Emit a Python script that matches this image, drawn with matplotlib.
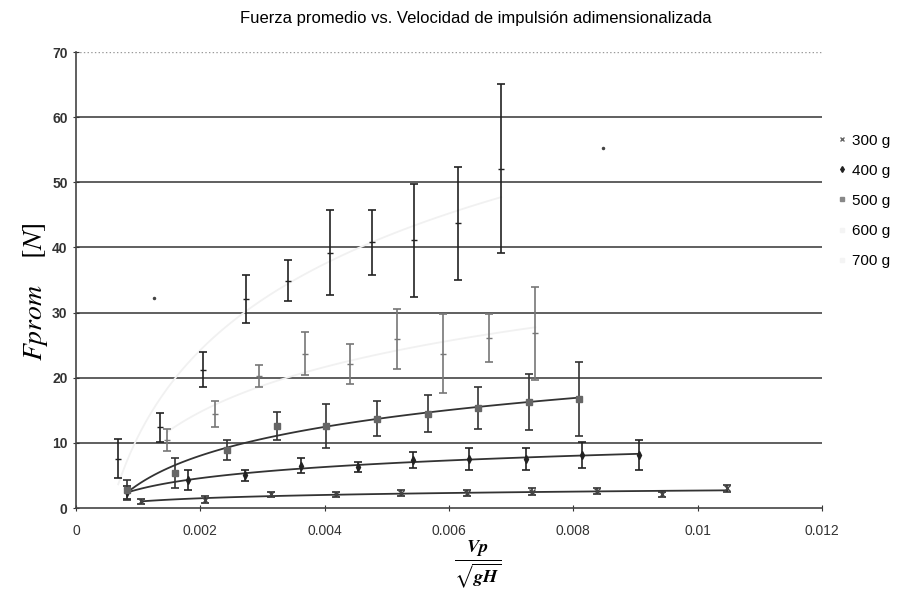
import numpy as np
import matplotlib
matplotlib.use("Agg")
from matplotlib import pyplot as plt
from matplotlib.lines import Line2D

# ---- data ----
series_labels = ["300 g", "400 g", "500 g", "600 g", "700 g"]

x_300 = [0.00105, 0.00208, 0.00314, 0.00418, 0.00523, 0.00629, 0.00733, 0.00838, 0.00942, 0.01048]
y_300 = [1.0, 1.3, 2.1, 2.1, 2.3, 2.3, 2.5, 2.6, 2.1, 3.0]
e_300 = [0.4, 0.5, 0.4, 0.4, 0.4, 0.4, 0.5, 0.4, 0.4, 0.6]

x_400 = [0.00082, 0.0018, 0.00272, 0.00362, 0.00453, 0.00542, 0.00633, 0.00724, 0.00814, 0.00905]
y_400 = [2.4, 4.3, 5.0, 6.5, 6.3, 7.4, 7.5, 7.5, 8.2, 8.2]
e_400 = [1.0, 1.5, 0.8, 1.2, 0.8, 1.2, 1.7, 1.7, 2.0, 2.3]

x_500 = [0.00082, 0.0016, 0.00243, 0.00323, 0.00403, 0.00484, 0.00567, 0.00646, 0.00728, 0.00809]
y_500 = [2.8, 5.4, 8.9, 12.6, 12.6, 13.7, 14.5, 15.4, 16.3, 16.7]
e_500 = [1.5, 2.3, 1.5, 2.1, 3.4, 2.7, 2.8, 3.2, 4.3, 5.7]

x_600 = [0.00146, 0.00224, 0.00294, 0.00368, 0.00441, 0.00516, 0.0059, 0.00665, 0.00739]
y_600 = [10.5, 14.5, 20.2, 23.7, 22.1, 26.0, 23.7, 26.1, 26.8]
e_600 = [1.7, 2.0, 1.7, 3.3, 3.0, 4.6, 6.1, 3.7, 7.2]

x_700 = [0.00068, 0.00135, 0.00204, 0.00273, 0.00341, 0.00409, 0.00477, 0.00544, 0.00615, 0.00684]
y_700 = [7.6, 12.4, 21.2, 32.1, 34.9, 39.2, 40.8, 41.1, 43.7, 52.1]
e_700 = [3.0, 2.2, 2.7, 3.7, 3.1, 6.5, 5.0, 8.7, 8.7, 13.0]

# two loose dots on the scan
x_dots = [0.00125, 0.00848]
y_dots = [32.3, 55.3]

x_ticks = [0, 0.002, 0.004, 0.006, 0.008, 0.01, 0.012]
x_ticklabels = ["0", "0.002", "0.004", "0.006", "0.008", "0.01", "0.012"]
y_ticks = [0, 10, 20, 30, 40, 50, 60, 70]

narrow = ["Liberation Sans Narrow", "Liberation Sans", "DejaVu Sans"]
plt.rcParams["mathtext.fontset"] = "stix"

fig = plt.figure(figsize=(8.99, 5.95), dpi=100)
ax = fig.add_axes([0.0845, 0.1462, 0.8298, 0.7664])

styles = [
    (x_300, y_300, e_300, "x", "#444444", "#333333", "#333333"),
    (x_400, y_400, e_400, "d", "#222222", "#222222", "#333333"),
    (x_500, y_500, e_500, "s", "#666666", "#333333", "#333333"),
    (x_600, y_600, e_600, "_", "#777777", "#777777", "#f1f1f1"),
    (x_700, y_700, e_700, "_", "#222222", "#222222", "#f1f1f1"),
]

for xs, ys, es, mk, mc, ec, lc in styles:
    xs = np.array(xs)
    ys = np.array(ys)
    ax.errorbar(xs, ys, yerr=es, fmt=mk, ms=4, mfc=mc, mec=mc, ecolor=ec,
                elinewidth=1.2, capsize=3, capthick=1.2, zorder=3)
    # logarithmic trend line, as Excel would draw it
    b, a = np.polyfit(np.log(xs), ys, 1)
    xt = np.linspace(xs.min(), xs.max(), 100)
    ax.plot(xt, a + b * np.log(xt), color=lc, lw=1.3, zorder=2)

ax.plot(x_dots, y_dots, ".", color="#444444", ms=3, zorder=3)

ax.set_xlim(0, 0.012)
ax.set_ylim(0, 70)
ax.set_xticks(x_ticks)
ax.set_xticklabels(x_ticklabels, family=narrow, fontsize=10)
ax.set_yticks(y_ticks)
ax.set_yticklabels([str(v) for v in y_ticks], family=narrow, fontsize=10,
                   fontweight="bold")
ax.tick_params(direction="inout", length=5, width=0.8, colors="#333333")
ax.tick_params(axis="x", pad=9)

for v in y_ticks[1:-1]:
    ax.axhline(v, color="#444444", lw=1.2, zorder=1)
ax.axhline(70, color="#999999", lw=1, ls=":", zorder=1)

for s in ["top", "right"]:
    ax.spines[s].set_visible(False)
for s in ["left", "bottom"]:
    ax.spines[s].set_color("#444444")
    ax.spines[s].set_linewidth(1.2)

fig.text(476 / 899, 1 - 18 / 595, "Fuerza promedio vs. Velocidad de impulsión adimensionalizada",
         ha="center", va="center", family=narrow, fontsize=12)

fig.text(36 / 899, 1 - 292 / 595, "$Fprom$   $[N]$", rotation=90,
         ha="center", va="center", fontsize=20)

fig.text(478 / 899, 1 - 564 / 595, r"$\frac{\mathbfit{Vp}}{\sqrt{\mathbfit{gH}}}$",
         ha="center", va="center", fontsize=19)

handles = [
    Line2D([], [], ls="", marker="x", ms=3, color="#666666"),
    Line2D([], [], ls="", marker="d", ms=3, color="#222222"),
    Line2D([], [], ls="", marker="s", ms=3, color="#888888"),
    Line2D([], [], ls="", marker="s", ms=3, color="#f4f4f4"),
    Line2D([], [], ls="", marker="s", ms=3, color="#f4f4f4"),
]
leg = fig.legend(handles, series_labels, loc="upper left",
                 bbox_to_anchor=(824 / 899, 1 - 120 / 595), frameon=False,
                 handlelength=0.6, handletextpad=0.35, labelspacing=1.05,
                 prop={"family": narrow, "size": 11})

fig.savefig("out.png", dpi=100)
